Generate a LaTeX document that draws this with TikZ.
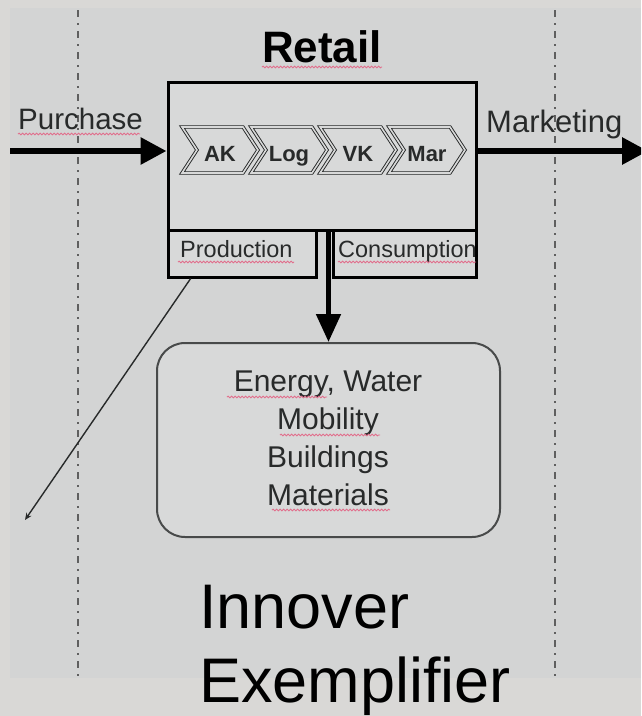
\documentclass[tikz,border=0pt]{standalone}
\usepackage{fontspec}
\setmainfont{Liberation Sans}
\usetikzlibrary{arrows.meta,calc,decorations.pathmorphing}
\definecolor{outerbg}{RGB}{217,216,214}
\definecolor{innerbg}{RGB}{211,212,212}
\definecolor{boxfill}{RGB}{216,217,217}
\definecolor{ink}{RGB}{40,42,42}
\definecolor{squig}{RGB}{225,110,140}
\definecolor{dashc}{RGB}{95,95,95}
\begin{document}
\begin{tikzpicture}[x=1pt,y=-1pt,
  txt/.style={inner sep=0pt, text=ink},
  heavy/.style={draw=black, line width=6pt, -{Triangle[length=26pt,width=26pt]}},
  frame/.style={draw=black, line width=3pt, fill=boxfill, inner sep=0pt},
  chev/.style={draw=ink!90!black, double=boxfill, double distance=1.6pt, line width=0.9pt},
  spell/.style={draw=squig, line width=0.9pt, decorate, decoration={snake, amplitude=0.8pt, segment length=3.5pt}},
  guide/.style={draw=dashc, line width=1.6pt, dash pattern=on 7pt off 6pt on 2pt off 6pt}]

\useasboundingbox (0,0) rectangle (641,716);
\fill[outerbg] (0,0) rectangle (641,716);
\fill[innerbg] (10,8) rectangle (641,678);

\begin{scope}
\clip (0,0) rectangle (641,716);
\draw[guide] (78,10) -- (78,678);
\draw[guide] (555,10) -- (555,678);

% Retail title
\node[txt, text=black, anchor=base, font={\fontsize{44}{44}\selectfont\bfseries}] (title) at (322,62) {Retail};
\draw[spell] (262,67) -- (382,67);

% main box and lower boxes
\node[frame, minimum width=308pt, minimum height=148pt] (retailbox) at (322,156) {};
\node[frame, minimum width=148pt, minimum height=47pt] (prod) at (242,253.5) {};
\node[frame, minimum width=143pt, minimum height=47pt] (cons) at (404.5,253.5) {};

% chevrons
\foreach \l/\t [count=\i] in {182/AK,251/Log,320/VK,389/Mar}{
  \draw[chev, fill=boxfill] (\l,127) -- ++(61,0) -- ++(15,23) -- ++(-15,23) -- ++(-61,0) -- ++(15,-23) -- cycle;
  \node[txt, anchor=base, font={\fontsize{22}{22}\selectfont\bfseries}] (c\i) at (\l+38,161) {\t};
}

% lower box labels
\node[txt, anchor=base west, font={\fontsize{23.5}{23.5}\selectfont}] (prodtext) at (180,257) {Production};
\draw[spell] (178,262) -- (294,262);
\begin{scope}
\clip (cons.south west) rectangle ([xshift=-1.5pt]cons.north east);
\node[txt, anchor=base west, font={\fontsize{23.5}{23.5}\selectfont}] (constext) at (338,257) {Consumption};
\draw[spell] (338,262) -- (476,262);
\end{scope}

% side arrows
\coordinate (pin) at (10,151);
\coordinate (pout) at (648,151);
\draw[heavy] (pin) -- (pin -| retailbox.west);
\draw[heavy] (pout -| retailbox.east) -- (pout);
\node[txt, anchor=base west, font={\fontsize{29.5}{29.5}\selectfont}] (purchase) at (18,129) {Purchase};
\draw[spell] (18,134) -- (140,134);
\node[txt, anchor=base west, font={\fontsize{31}{31}\selectfont}] (marketing) at (486,132) {Marketing};

% resource box
\node[draw=ink!85, line width=2pt, rounded corners=28pt, fill=boxfill, minimum width=343pt, minimum height=194pt, inner sep=0pt] (resbox) at (328.5,440) {};
\draw[draw=black, line width=5pt, -{Triangle[length=28pt,width=24pt]}] (retailbox.south -| resbox.north) -- (resbox.north);
\node[txt, anchor=base, font={\fontsize{30}{30}\selectfont}] (l1) at (328,391) {Energy, Water};
\node[txt, anchor=base, font={\fontsize{30}{30}\selectfont}] (l2) at (328,429) {Mobility};
\node[txt, anchor=base, font={\fontsize{30}{30}\selectfont}] (l3) at (328,467) {Buildings};
\node[txt, anchor=base, font={\fontsize{30}{30}\selectfont}] (l4) at (328,505) {Materials};
\draw[spell] (227,397) -- (327,397);
\draw[spell] (280,435) -- (380,435);
\draw[spell] (272,510) -- (390,510);

% diagonal arrow
\coordinate (dend) at (25,520);
\draw[draw=ink, line width=1.4pt, -{Stealth[length=7pt,width=6pt]}] ($(prod.south west)!0.16!(prod.south east)$) -- (dend);

% caption
\node[inner sep=0pt, text=black, anchor=base west, font={\fontsize{63}{63}\selectfont}] (cap1) at (199,628) {Innover};
\node[inner sep=0pt, text=black, anchor=base west, font={\fontsize{63}{63}\selectfont}] (cap2) at (199,702) {Exemplifier};
\end{scope}
\end{tikzpicture}
\end{document}
